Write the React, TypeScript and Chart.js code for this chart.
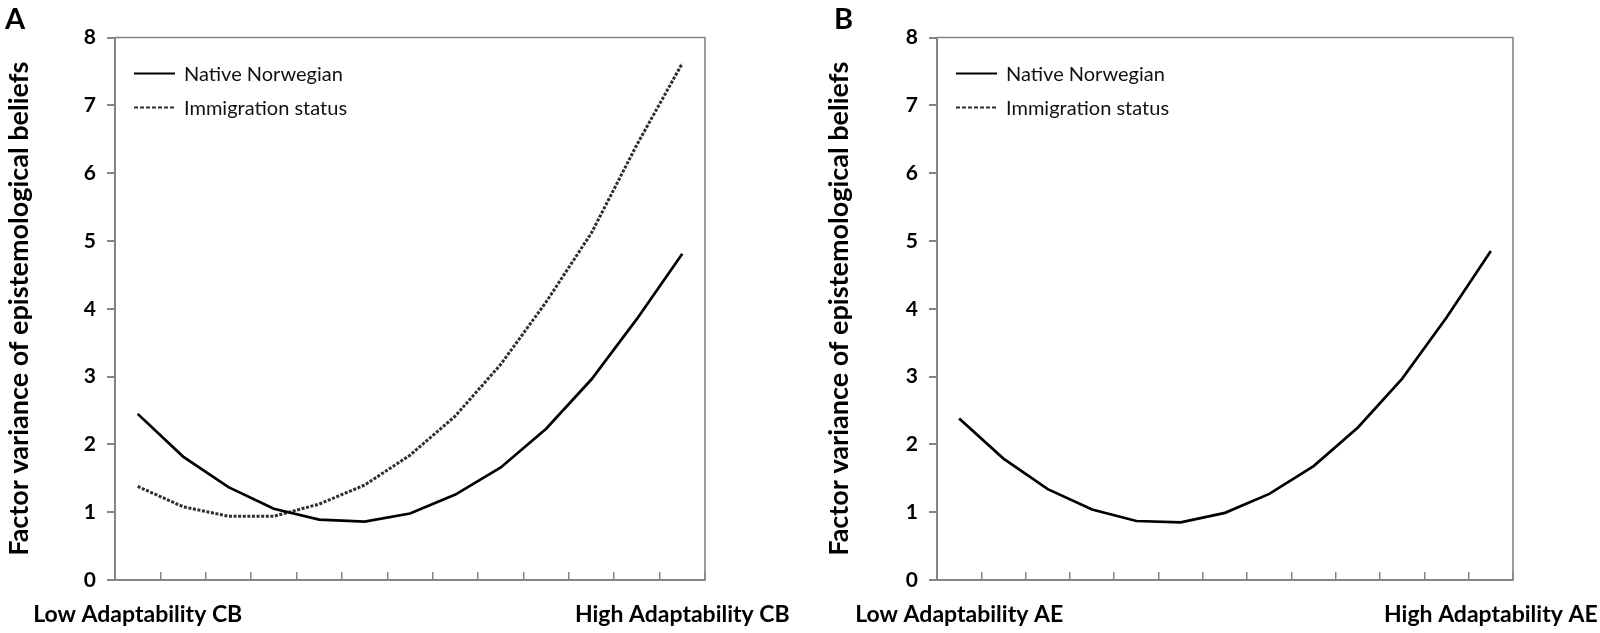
import { useEffect, useRef } from 'react';
import { Chart, registerables } from 'chart.js';

Chart.register(...registerables);

const FONT = 'Lato, "Open Sans", sans-serif';

// categories along the x axis (only the two ends carry text)
const aTickLabels = ['Low Adaptability CB', '', '', '', '', '', '', '', '', '', '', '', 'High Adaptability CB'];
const bTickLabels = ['Low Adaptability AE', '', '', '', '', '', '', '', '', '', '', '', 'High Adaptability AE'];

const seriesNames = ['Native Norwegian', 'Immigration status'];

// panel A: adaptability CB
const aNative = [2.45, 1.82, 1.37, 1.05, 0.89, 0.86, 0.98, 1.26, 1.66, 2.23, 2.96, 3.85, 4.81];
const aImmigration = [1.38, 1.08, 0.94, 0.94, 1.12, 1.40, 1.84, 2.42, 3.18, 4.10, 5.12, 6.42, 7.62];

// panel B: adaptability AE (immigration line not visible in the figure)
const bNative = [2.38, 1.79, 1.34, 1.04, 0.87, 0.85, 0.99, 1.27, 1.68, 2.25, 2.97, 3.87, 4.85];
const bImmigration: number[] = [];

const yTitle = 'Factor variance of epistemological beliefs';

const AXIS_GREY = '#858585';

const framePlugin = {
  id: 'frame',
  afterDatasetsDraw(chart: any, _args: any, opts: any) {
    const { ctx, chartArea: a } = chart;
    ctx.save();
    ctx.strokeStyle = opts.color;
    ctx.lineWidth = opts.width;
    ctx.beginPath();
    ctx.moveTo(a.left, a.top);
    ctx.lineTo(a.right, a.top);
    ctx.lineTo(a.right, a.bottom);
    ctx.stroke();
    ctx.restore();
  },
};

// legend drawn inside the plot, one row per dataset
const innerLegend = {
  id: 'innerLegend',
  afterDraw(chart: any, _args: any, opts: any) {
    const { ctx, chartArea: a } = chart;
    chart.data.datasets.forEach((ds: any, i: number) => {
      const y = a.top + opts.top + i * opts.gap;
      const x0 = a.left + opts.x;
      ctx.save();
      ctx.strokeStyle = ds.borderColor;
      ctx.lineWidth = 2;
      ctx.setLineDash(ds.borderDash ? [4, 2] : []);
      ctx.beginPath();
      ctx.moveTo(x0, y);
      ctx.lineTo(x0 + opts.len, y);
      ctx.stroke();
      ctx.setLineDash([]);
      ctx.fillStyle = '#111';
      ctx.font = `${opts.size}px ${FONT}`;
      ctx.textBaseline = 'middle';
      ctx.fillText(ds.label, x0 + opts.len + 9, y + 1);
      ctx.restore();
    });
  },
};

const panelLetter = {
  id: 'panelLetter',
  afterDraw(chart: any, _args: any, opts: any) {
    const { ctx } = chart;
    ctx.save();
    ctx.fillStyle = '#000';
    ctx.font = `bold 29px ${FONT}`;
    ctx.textBaseline = 'top';
    ctx.fillText(opts.text, opts.x, opts.y);
    ctx.restore();
  },
};

interface PanelProps {
  labels: string[];
  native: number[];
  immigration: number[];
  letter: string;
  letterX: number;
  axisWidth: number;
  rightPad: number;
  titlePad: number;
}

function Panel({ labels, native, immigration, letter, letterX, axisWidth, rightPad, titlePad }: PanelProps) {
  const canvasRef = useRef<HTMLCanvasElement>(null);

  useEffect(() => {
    if (!canvasRef.current) return;
    const chart = new Chart(canvasRef.current, {
      type: 'line',
      data: {
        labels,
        datasets: [
          {
            label: seriesNames[0],
            data: native,
            borderColor: '#000',
            borderWidth: 2.7,
            pointRadius: 0,
            tension: 0,
            order: 0,
          },
          {
            label: seriesNames[1],
            data: immigration,
            borderColor: '#2e2e2e',
            borderWidth: 3,
            borderDash: [3, 1.6],
            pointRadius: 0,
            tension: 0,
            order: 1,
          },
        ],
      },
      options: {
        responsive: false,
        animation: false,
        events: [],
        layout: { padding: { left: 0, right: rightPad, top: 37.5, bottom: 0 } },
        scales: {
          x: {
            type: 'category',
            offset: true,
            grid: { offset: true, drawOnChartArea: false, tickLength: -8, color: AXIS_GREY, lineWidth: 1.5 },
            border: { color: AXIS_GREY, width: 2 },
            ticks: {
              autoSkip: false,
              maxRotation: 0,
              minRotation: 0,
              padding: 29,
              color: '#000',
              font: { family: FONT, size: 23, weight: 'bold' },
            },
            afterFit: (s: any) => {
              // keep the plot box fixed; the end labels may run past it
              s.height = 53;
              s.paddingLeft = 0;
              s.paddingRight = 0;
            },
          },
          y: {
            min: 0,
            max: 8,
            ticks: {
              stepSize: 1,
              padding: 11,
              color: '#000',
              font: { family: FONT, size: 21, weight: 'bold' },
            },
            grid: { drawOnChartArea: false, tickLength: 8, color: AXIS_GREY, lineWidth: 2 },
            border: { color: AXIS_GREY, width: 2 },
            title: {
              display: true,
              text: yTitle,
              color: '#000',
              font: { family: FONT, size: 27, weight: 'bold' },
              padding: { top: titlePad, bottom: 0 },
            },
            afterFit: (s: any) => {
              s.width = axisWidth;
              s.paddingTop = 0;
              s.paddingBottom = 0;
            },
          },
        },
        plugins: {
          legend: { display: false },
          tooltip: { enabled: false },
          frame: { color: AXIS_GREY, width: 1.6 },
          innerLegend: { x: 19, top: 36, gap: 34, len: 41, size: 20 },
          panelLetter: { text: letter, x: letterX, y: 5 },
        } as any,
      },
      plugins: [framePlugin, innerLegend, panelLetter],
    });
    return () => chart.destroy();
  }, [labels, native, immigration, letter, letterX, axisWidth, rightPad, titlePad]);

  return <canvas ref={canvasRef} width={800} height={633} style={{ display: 'block' }} />;
}

export default function App() {
  return (
    <div style={{ position: 'absolute', left: 0, top: 0, width: 1600, height: 633, background: '#fff' }}>
      <div style={{ position: 'absolute', left: 0, top: 0 }}>
        <Panel
          labels={aTickLabels}
          native={aNative}
          immigration={aImmigration}
          letter="A"
          letterX={5}
          axisWidth={115}
          rightPad={95}
          titlePad={3}
        />
      </div>
      <div style={{ position: 'absolute', left: 800, top: 0 }}>
        <Panel
          labels={bTickLabels}
          native={bNative}
          immigration={bImmigration}
          letter="B"
          letterX={34}
          axisWidth={137}
          rightPad={87}
          titlePad={23}
        />
      </div>
    </div>
  );
}
